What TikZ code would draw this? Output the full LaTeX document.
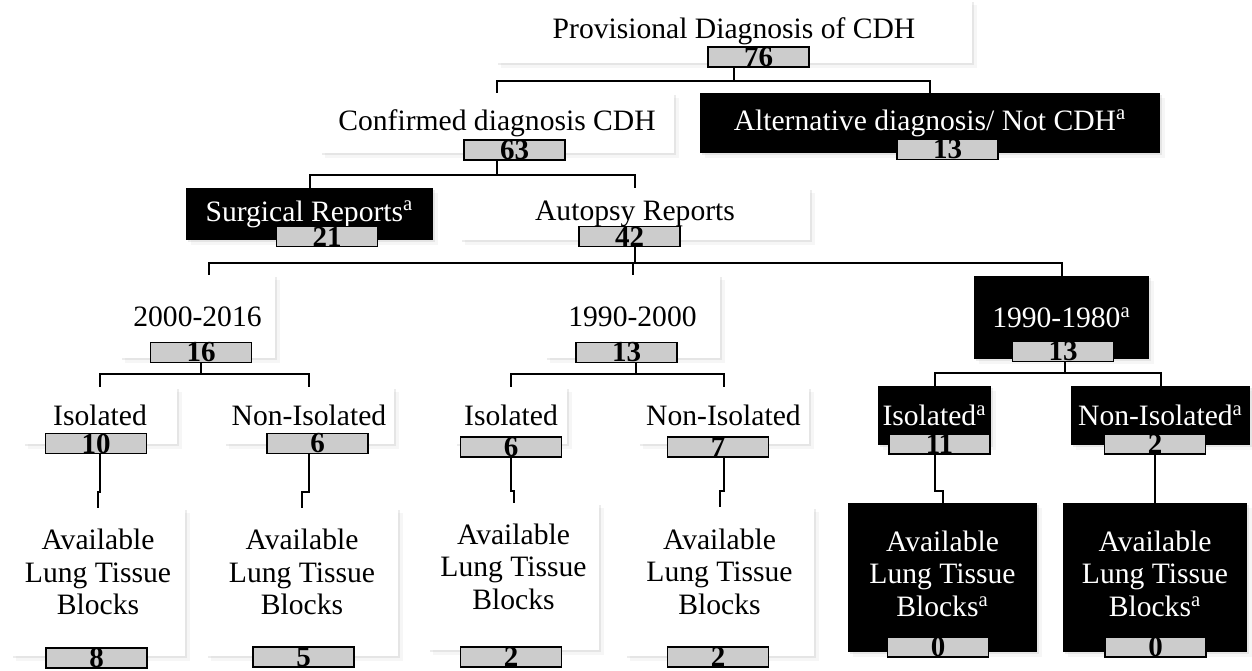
\documentclass[tikz,border=0pt]{standalone}
\usepackage{fontspec}
\setmainfont{Liberation Serif}
\usepackage{tikz}
\usetikzlibrary{shadows}
\definecolor{countGray}{RGB}{204,204,204}

\begin{document}
\begin{tikzpicture}[x=0.5pt,y=-0.5pt,
  box/.style={fill=white,inner sep=0pt,align=center,
    font=\fontsize{14.8}{16.3}\selectfont,
    drop shadow={shadow xshift=2.5pt,shadow yshift=-2.5pt,opacity=.07},
    drop shadow={shadow xshift=1.2pt,shadow yshift=-1.2pt,opacity=.15}},
  darkbox/.style={box,fill=black,text=white},
  count/.style={draw,fill=countGray,line width=0.8pt,inner sep=0pt,
    minimum width=50.5pt,minimum height=10pt,
    font=\fontsize{14.5}{14.5}\bfseries\selectfont},
  link/.style={line width=1pt}]
  \useasboundingbox (0,0) rectangle (1252,670);

  \node[box,minimum width=238pt,minimum height=31.5pt] (prov) at (734,31.5) {Provisional Diagnosis of CDH};
  \node[count] (c76) at (758.5,57) {76};

  \node[box,minimum width=177pt,minimum height=30pt] (conf) at (497,123) {Confirmed diagnosis CDH};
  \node[count] (c63) at (514.5,150) {63};
  \node[darkbox,minimum width=230pt,minimum height=30pt] (alt) at (930,123) {Alternative diagnosis/ Not CDH\textsuperscript{a}};
  \node[count] (c13a) at (947.5,149.5) {13};

  \node[darkbox,minimum width=123.5pt,minimum height=26pt] (surg) at (309.5,214) {Surgical Reports\textsuperscript{a}};
  \node[count] (c21) at (327,236.5) {21};
  \node[box,minimum width=175pt,minimum height=26pt] (auto) at (635,214) {Autopsy Reports};
  \node[count] (c42) at (629.5,236.5) {42};

  \node[box,minimum width=77.5pt,minimum height=41.5pt] (y2000) at (197.5,316.5) {2000-2016};
  \node[count] (c16) at (201,352.5) {16};
  \node[box,minimum width=87.5pt,minimum height=41.5pt] (y1990) at (632.5,316.5) {1990-2000};
  \node[count] (c13b) at (626.5,352.5) {13};
  \node[darkbox,minimum width=87.5pt,minimum height=41.5pt] (y1980) at (1061.5,317.5) {1990-1980\textsuperscript{a}};
  \node[count] (c13c) at (1063,351.5) {13};

  \node[box,minimum width=77pt,minimum height=28.5pt] (iso1) at (100,415.5) {Isolated};
  \node[count] (c10) at (96,443.5) {10};
  \node[box,minimum width=85pt,minimum height=28.5pt] (non1) at (309,415.5) {Non-Isolated};
  \node[count] (c6a) at (317.5,443.5) {6};
  \node[box,minimum width=56pt,minimum height=28.5pt] (iso2) at (511,415.5) {Isolated};
  \node[count] (c6b) at (511,447) {6};
  \node[box,minimum width=85.5pt,minimum height=28.5pt] (non2) at (723.5,415.5) {Non-Isolated};
  \node[count] (c7) at (718,447) {7};
  \node[darkbox,minimum width=56.5pt,minimum height=29.5pt] (iso3) at (934.5,415.5) {Isolated\textsuperscript{a}};
  \node[count] (c11) at (939.5,444) {11};
  \node[darkbox,minimum width=89.5pt,minimum height=29.5pt] (non3) at (1160.5,415.5) {Non-Isolated\textsuperscript{a}};
  \node[count] (c2) at (1155,444) {2};

  \node[box,minimum width=87pt,minimum height=74pt] (av1) at (98,582) {Available\\Lung Tissue\\Blocks\\[-6.3pt]};
  \node[count] (c8) at (96.5,658) {8};
  \node[box,minimum width=96pt,minimum height=74pt] (av2) at (302,582) {Available\\Lung Tissue\\Blocks\\[-6.3pt]};
  \node[count] (c5) at (303.5,657) {5};
  \node[box,minimum width=85.5pt,minimum height=73.5pt] (av3) at (513.5,576.5) {Available\\Lung Tissue\\Blocks\\[-6.3pt]};
  \node[count] (c2a) at (511,657) {2};
  \node[box,minimum width=94.5pt,minimum height=74.5pt] (av4) at (719.5,581.5) {Available\\Lung Tissue\\Blocks\\[-6.3pt]};
  \node[count] (c2b) at (718,657) {2};
  \node[darkbox,minimum width=94.5pt,minimum height=74.5pt] (av5) at (942.5,577.5) {Available\\Lung Tissue\\Blocks\textsuperscript{a}\\[-12.5pt]};
  \node[count] (c0a) at (938,647) {0};
  \node[darkbox,minimum width=92pt,minimum height=74.5pt] (av6) at (1155,577.5) {Available\\Lung Tissue\\Blocks\textsuperscript{a}\\[-12.5pt]};
  \node[count] (c0b) at (1155.5,647) {0};

  \foreach \b in {conf,alt}
    \draw[link] (prov.center |- c76.south) -- ++(0,13) -| (\b.north);
  \foreach \b in {surg,auto}
    \draw[link] (conf.center |- c63.south) -- ++(0,14) -| (\b.north);
  \draw[link] (auto.center |- c42.south) -- ++(0,16) -| ([xshift=5.5pt]y2000.north);
  \foreach \b in {y1990,y1980}
    \draw[link] (auto.center |- c42.south) -- ++(0,16) -| (\b.north);
  \foreach \a/\c/\b in {y2000/c16/iso1,y2000/c16/non1,y1990/c13b/iso2,y1990/c13b/non2,y1980/c13c/iso3,y1980/c13c/non3}
    \draw[link] ([xshift=1.5pt]\a.center |- \c.south) -- ++(0,11) -| (\b.north);
  \foreach \a/\c/\b/\h in {iso1/c10/av1/38,non1/c6a/av2/38,iso2/c6b/av3/33,non2/c7/av4/33,iso3/c11/av5/36}
    \draw[link] (\a.center |- \c.south) -- ++(0,\h) -| (\b.north);
  \draw[link] (c2.south) -- (c2.south |- av6.north);
\end{tikzpicture}
\end{document}
